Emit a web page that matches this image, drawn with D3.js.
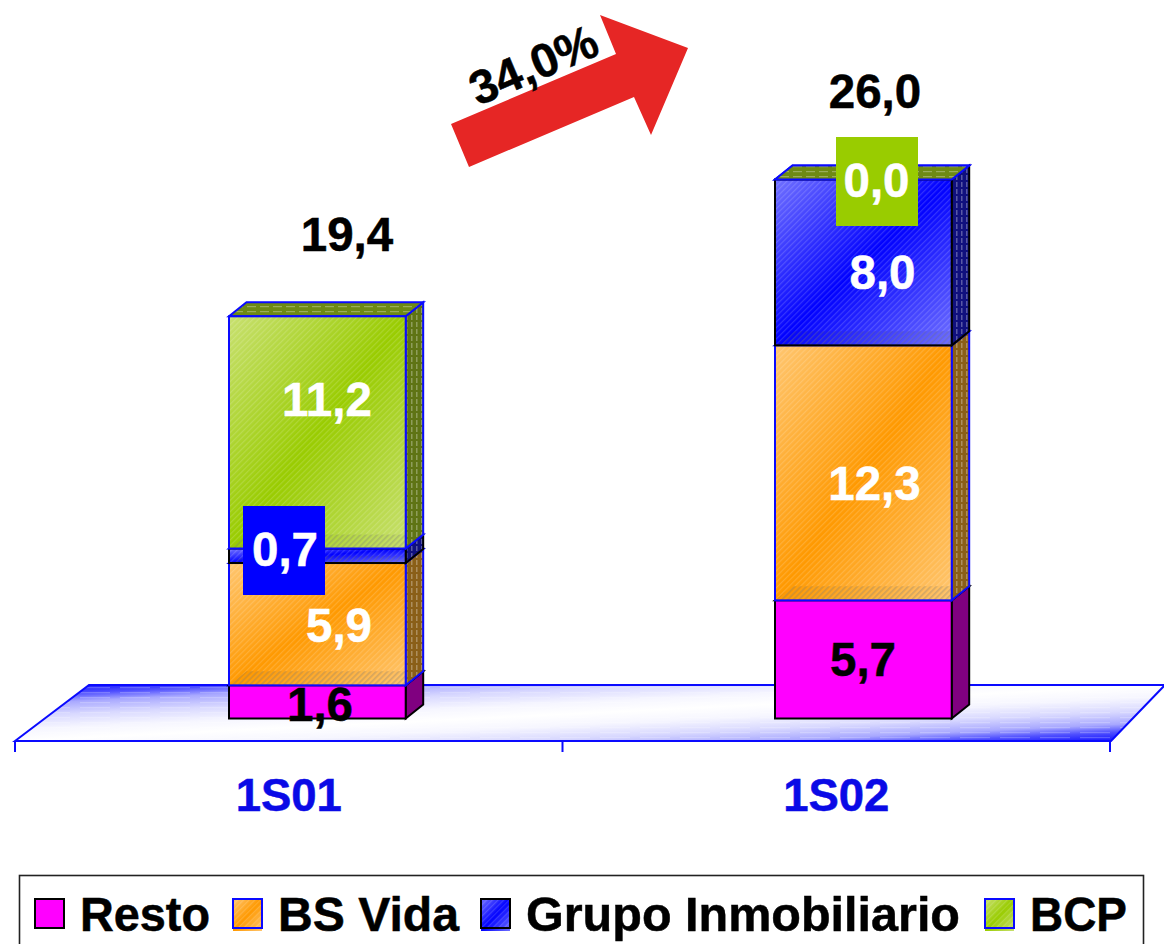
<!DOCTYPE html>
<html><head><meta charset="utf-8">
<script src="https://cdn.jsdelivr.net/npm/d3@7/dist/d3.min.js"></script>
<style>html,body{margin:0;padding:0;background:#fff}svg{display:block}text{font-family:"Liberation Sans",Arial,sans-serif;font-weight:700;stroke-width:.5px;paint-order:stroke}</style>
</head><body><svg id="c" width="1164" height="944"></svg>
<script>
const categories = ["1S01", "1S02"];
const seriesNames = ["Resto", "BS Vida", "Grupo Inmobiliario", "BCP"];
const resto = [1.6, 5.7];
const bsVida = [5.9, 12.3];
const grupoInmobiliario = [0.7, 8.0];
const bcp = [11.2, 0.0];
const totals = [19.4, 26.0];
const growthLabel = "34,0%";

// styling
const baseColors = ["#FF00FF", "#FF9900", "#0000FF", "#99CC00"];
const lightColors = ["#FF00FF", "#FFC670", "#7070FF", "#C8E070"];
const sideColors = ["#800080", "#8A5F18", "#10107E", "#5F7414"];
const topColors = ["#800080", "#8A5F18", "#10107E", "#6E8A14"];
const edgeColors = ["#000", "#0A0AFF", "#000", "#0A0AFF"];
const W = 1164, barW = 176.7, depthX = 17.5, depthY = 14, fontPx = 47.5;

const svg = d3.select("#c");
const defs = svg.append("defs");
const fmt = v => d3.format(".1f")(v).replace(".", ",");

const x = d3.scaleBand().domain(categories).range([15, 1110]);
const barX = d3.scalePoint().domain(categories).range([229, 775]);
const y = d3.scaleLinear().domain([0, 26]).range([718.5, 179.5]);

// gradients and hatch patterns
const floorGrad = defs.append("linearGradient").attr("id", "floorG")
  .attr("x1", 0).attr("y1", 0).attr("x2", 1).attr("y2", 1);
[[0, "#1010FF"], [0.05, "#2828FF"], [0.1, "#5050FF"], [0.17, "#A8A8FF"], [0.28, "#D8D8FF"], [0.4, "#F6F6FF"], [0.5, "#FFFFFF"],
 [0.6, "#F6F6FF"], [0.72, "#D8D8FF"], [0.83, "#A8A8FF"], [0.9, "#5050FF"], [0.95, "#2828FF"], [1, "#1010FF"]]
  .forEach(s => floorGrad.append("stop").attr("offset", s[0]).attr("stop-color", s[1]));

seriesNames.forEach((n, i) => {
  const g = defs.append("linearGradient").attr("id", "face" + i)
    .attr("x1", 0).attr("y1", 0).attr("x2", 1).attr("y2", 1);
  if (i === 0) {
    g.append("stop").attr("offset", 0).attr("stop-color", baseColors[0]);
    g.append("stop").attr("offset", 1).attr("stop-color", baseColors[0]);
  } else {
    g.append("stop").attr("offset", 0).attr("stop-color", lightColors[i]);
    g.append("stop").attr("offset", 0.5).attr("stop-color", baseColors[i]);
    g.append("stop").attr("offset", 1).attr("stop-color", lightColors[i]);
  }
});
const hatch = defs.append("pattern").attr("id", "hatch").attr("patternUnits", "userSpaceOnUse")
  .attr("width", 4).attr("height", 4).attr("patternTransform", "rotate(-45)");
hatch.append("rect").attr("width", 4).attr("height", 1.2).attr("fill", "#fff").attr("opacity", 0.16);
const shade = defs.append("pattern").attr("id", "shade").attr("patternUnits", "userSpaceOnUse")
  .attr("width", 4).attr("height", 4).attr("patternTransform", "rotate(-45)");
shade.append("rect").attr("width", 4).attr("height", 1.6).attr("fill", "#333").attr("opacity", 0.22);
const vdash = defs.append("pattern").attr("id", "vdash").attr("patternUnits", "userSpaceOnUse")
  .attr("width", 5).attr("height", 7);
vdash.append("rect").attr("x", 1).attr("width", 1.5).attr("height", 5).attr("fill", "#fff").attr("opacity", 0.3);
const hdash = defs.append("pattern").attr("id", "hdash").attr("patternUnits", "userSpaceOnUse")
  .attr("width", 13).attr("height", 5);
hdash.append("rect").attr("y", 1).attr("width", 9).attr("height", 1.2).attr("fill", "#fff").attr("opacity", 0.3);
const floorLines = defs.append("pattern").attr("id", "floorLines").attr("patternUnits", "userSpaceOnUse")
  .attr("width", 40).attr("height", 5);
floorLines.append("rect").attr("y", 2).attr("width", 30).attr("height", 1.2).attr("fill", "#fff").attr("opacity", 0.22);

// floor
const [fx0, fx1] = x.range();
const floorY0 = 741, floorY1 = 685, floorDx = 74;
const floorP = `M${fx0},${floorY0}L${fx0 + floorDx},${floorY1}L${W + 1},${floorY1}L${fx1 + 1},${floorY0}Z`;
svg.append("path").attr("d", floorP).attr("fill", "url(#floorG)");
svg.append("path").attr("d", floorP).attr("fill", "url(#floorLines)");
svg.append("path").attr("d", floorP).attr("fill", "none").attr("stroke", "#0A0AFF").attr("stroke-width", 2);

// axis labels via a bottom axis, and separator ticks
const axis = d3.axisBottom(x).tickSize(0).tickPadding(0);
const axG = svg.append("g").attr("transform", `translate(0,${floorY0})`).call(axis);
axG.select(".domain").remove();
axG.selectAll("text").attr("y", 70).attr("dy", 0).attr("fill", "#0A0AE6").attr("stroke", "#0A0AE6")
  .style("font-size", "45.5px").style("font-family", '"Liberation Sans",Arial,sans-serif').style("font-weight", 700);
axG.selectAll("line.sep").data([fx0, (fx0 + fx1) / 2, fx1]).enter().append("line").attr("class", "sep")
  .attr("x1", d => d).attr("x2", d => d).attr("y1", 0).attr("y2", 11)
  .attr("stroke", "#0A0AFF").attr("stroke-width", 2);

// stacks
const rows = categories.map((c, i) => ({ cat: c, s0: resto[i], s1: bsVida[i], s2: grupoInmobiliario[i], s3: bcp[i] }));
const stacked = d3.stack().keys(["s0", "s1", "s2", "s3"])(rows);

stacked.forEach((layer, si) => {
  const g = svg.append("g").attr("class", "layer-" + si);
  layer.forEach((d, ci) => {
    const x0 = barX(categories[ci]), x1 = x0 + barW;
    const yb = y(d[0]), yt = y(d[1]);
    const edge = edgeColors[si];
    const topP = `M${x0},${yt}L${x0 + depthX},${yt - depthY}L${x1 + depthX},${yt - depthY}L${x1},${yt}Z`;
    if (d[1] - d[0] <= 0) {
      // a zero-height segment still shows its top face
      g.append("path").attr("d", topP).attr("fill", topColors[si]);
      g.append("path").attr("d", topP).attr("fill", "url(#hdash)").attr("stroke", "#0A0AFF").attr("stroke-width", 2);
      return;
    }
    // side
    const sideP = `M${x1},${yb}L${x1 + depthX},${yb - depthY}L${x1 + depthX},${yt - depthY}L${x1},${yt}Z`;
    g.append("path").attr("d", sideP).attr("fill", sideColors[si]);
    if (si > 0) g.append("path").attr("d", sideP).attr("fill", "url(#vdash)");
    g.append("path").attr("d", sideP).attr("fill", "none").attr("stroke", edge).attr("stroke-width", 2);
    // top
    g.append("path").attr("d", topP).attr("fill", topColors[si]);
    if (si > 0) g.append("path").attr("d", topP).attr("fill", "url(#hdash)");
    g.append("path").attr("d", topP).attr("fill", "none").attr("stroke", si === 0 ? edge : "#0A0AFF").attr("stroke-width", 2);
    // front
    g.append("rect").attr("x", x0).attr("y", yt).attr("width", barW).attr("height", yb - yt)
      .attr("fill", `url(#face${si})`);
    if (si > 0) {
      g.append("rect").attr("x", x0).attr("y", yt).attr("width", barW).attr("height", yb - yt).attr("fill", "url(#hatch)");
      // the box's floor seen through the front face
      const sh = Math.min(depthY, (yb - yt) * 0.5);
      g.append("path").attr("d", `M${x0},${yb}L${x0 + depthX},${yb - sh}L${x1},${yb - sh}L${x1},${yb}Z`)
        .attr("fill", "url(#shade)");
    }
    g.append("rect").attr("x", x0).attr("y", yt).attr("width", barW).attr("height", yb - yt)
      .attr("fill", "none").attr("stroke", edge).attr("stroke-width", 2);
  });
});

// value labels: one [x, y] centre per series, per category
const labelSpots = [
  [[320, 704], [339, 625], [285, 549], [327, 399]],
  [[863, 659], [874.5, 483], [882.5, 272], [876.5, 180]]
];
const boxSpots = [[null, null, [243, 506], null], [null, null, null, [836, 137]]];
const labelSeries = [resto, bsVida, grupoInmobiliario, bcp];
const labelColor = ["#000", "#fff", "#fff", "#fff"];
const totalSpots = [[347, 234], [875, 91]];
const lg = svg.append("g");
categories.forEach((c, ci) => {
  seriesNames.forEach((n, si) => {
    const [lx, ly] = labelSpots[ci][si];
    const b = boxSpots[ci][si];
    if (b) lg.append("rect").attr("x", b[0]).attr("y", b[1]).attr("width", 82).attr("height", 89).attr("fill", baseColors[si]);
    lg.append("text").attr("x", lx).attr("y", ly + 17).attr("text-anchor", "middle")
      .attr("font-size", fontPx).attr("fill", labelColor[si]).attr("stroke", labelColor[si]).text(fmt(labelSeries[si][ci]));
  });
  lg.append("text").attr("x", totalSpots[ci][0]).attr("y", totalSpots[ci][1] + 17).attr("text-anchor", "middle")
    .attr("font-size", fontPx).attr("fill", "#000").attr("stroke", "#000").text(fmt(totals[ci]));
});

// growth arrow
svg.append("polygon").attr("points", "451,124 469,167 634,97 651,135 688,48 600,15 616,54").attr("fill", "#E62625");
svg.append("text").attr("transform", "translate(540,80) rotate(-23)").attr("text-anchor", "middle")
  .attr("font-size", fontPx).attr("fill", "#000").attr("stroke", "#000").text(growthLabel);

// legend
svg.append("rect").attr("x", 19.5).attr("y", 875.5).attr("width", 1124).attr("height", 80)
  .attr("fill", "#fff").attr("stroke", "#222").attr("stroke-width", 1.6);
const legendSwatchX = [35, 233, 481, 985];
const legendTextX = [80, 278, 526, 1030];
const legendTextLen = [130, 181, 434, 97];
seriesNames.forEach((n, i) => {
  const g = svg.append("g");
  const sw = 29;
  g.append("rect").attr("x", legendSwatchX[i]).attr("y", 899).attr("width", sw).attr("height", i === 0 ? sw : sw + 3).attr("fill", `url(#face${i})`);
  if (i > 0) g.append("rect").attr("x", legendSwatchX[i]).attr("y", 899).attr("width", sw).attr("height", sw).attr("fill", "url(#hatch)");
  g.append("rect").attr("x", legendSwatchX[i]).attr("y", 899).attr("width", sw).attr("height", sw).attr("fill", "none")
    .attr("stroke", edgeColors[i]).attr("stroke-width", 2);
  g.append("text").attr("x", legendTextX[i]).attr("y", 931).attr("font-size", fontPx).attr("fill", "#000").attr("stroke", "#000")
    .attr("textLength", legendTextLen[i]).attr("lengthAdjust", "spacingAndGlyphs").text(n);
});
</script></body></html>
